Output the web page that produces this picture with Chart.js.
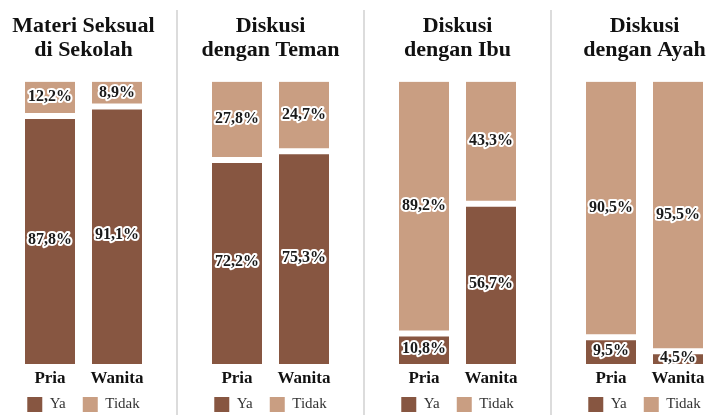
<!DOCTYPE html>
<html>
<head>
<meta charset="utf-8">
<script src="https://cdn.jsdelivr.net/npm/chart.js@4.4.1/dist/chart.umd.min.js"></script>
<style>
  html, body { margin: 0; padding: 0; background: #fff; overflow: hidden; }
  #wrap { position: relative; width: 707px; height: 415px; overflow: hidden; }
  .panel { position: absolute; top: 0; width: 187px; height: 422px; }
  .sep { position: absolute; top: 10px; width: 2px; height: 405px; background: #dcdcdc; }
</style>
</head>
<body>
<div id="wrap"></div>
<script>
// 데이터: 패널별 (Pria, Wanita)
const CATEGORIES = ['Pria', 'Wanita'];
const SERIES = ['Ya', 'Tidak'];
const TITLES = [
  ['Materi Seksual', 'di Sekolah'],
  ['Diskusi', 'dengan Teman'],
  ['Diskusi', 'dengan Ibu'],
  ['Diskusi', 'dengan Ayah'],
];
const YA = [[87.8, 91.1], [72.2, 75.3], [10.8, 56.7], [9.5, 4.5]];
const TIDAK = [[12.2, 8.9], [27.8, 24.7], [89.2, 43.3], [90.5, 95.5]];

const COLORS = ['#875641', '#c99e82'];
const SERIF = '"Liberation Serif", "Times New Roman", serif';
const PANEL_X = [-10, 177, 364, 551];
const SIDE = 26.5;

// 막대 안 퍼센트 라벨 (흰 테두리)
const pctLabels = {
  id: 'pctLabels',
  afterDatasetsDraw(chart) {
    const ctx = chart.ctx;
    ctx.save();
    ctx.font = 'bold 16px ' + SERIF;
    ctx.textAlign = 'center';
    ctx.textBaseline = 'middle';
    ctx.lineJoin = 'round';
    chart.data.datasets.forEach((ds, di) => {
      chart.getDatasetMeta(di).data.forEach((el, i) => {
        const v = ds.data[i];
        const txt = v.toFixed(1).replace('.', ',') + '%';
        const p = el.getCenterPoint();
        const y = p.y + (di === 0 ? 0 : -1.5);
        ctx.lineWidth = 4;
        ctx.strokeStyle = '#fff';
        ctx.strokeText(txt, p.x, y);
        ctx.fillStyle = '#1a1a1a';
        ctx.fillText(txt, p.x, y);
      });
    });
    ctx.restore();
  },
};

const wrap = document.getElementById('wrap');

TITLES.forEach((title, k) => {
  const div = document.createElement('div');
  div.className = 'panel';
  div.style.left = PANEL_X[k] + 'px';
  const cv = document.createElement('canvas');
  cv.width = 187; cv.height = 422;
  cv.style.width = '187px'; cv.style.height = '422px';
  div.appendChild(cv);
  wrap.appendChild(div);

  new Chart(cv, {
    type: 'bar',
    data: {
      labels: CATEGORIES,
      datasets: [
        {
          label: SERIES[0], data: YA[k], backgroundColor: COLORS[0],
          borderColor: '#fff', borderWidth: { top: 3, bottom: 0, left: 0, right: 0 }, borderSkipped: false,
        },
        {
          label: SERIES[1], data: TIDAK[k], backgroundColor: COLORS[1],
          borderColor: '#fff', borderWidth: { top: 0, bottom: 3, left: 0, right: 0 }, borderSkipped: false,
        },
      ],
    },
    options: {
      responsive: false,
      animation: false,
      barPercentage: 50 / 67,
      categoryPercentage: 1,
      layout: { padding: 0 },
      scales: {
        x: {
          stacked: true,
          grid: { display: false, drawTicks: false },
          border: { display: false },
          // mirror: 라벨이 축 영역에 잘리지 않도록
          ticks: {
            color: '#111', mirror: true, padding: -25,
            font: { family: SERIF, size: 17, weight: 'bold', lineHeight: 1.2 },
          },
          afterFit: (s) => { s.height = 16; },
        },
        y: {
          stacked: true, min: 0, max: 100,
          grid: { display: false, drawTicks: false },
          border: { display: false },
          ticks: { display: false },
          afterFit: (s) => { s.width = SIDE; },
        },
        y2: {
          position: 'right', display: true,
          grid: { display: false, drawTicks: false },
          border: { display: false },
          ticks: { display: false },
          afterFit: (s) => { s.width = SIDE; },
        },
      },
      plugins: {
        tooltip: { enabled: false },
        title: {
          display: true,
          text: title,
          color: '#111',
          font: { family: SERIF, size: 22, weight: 'bold', lineHeight: 1.1 },
          padding: { top: 14, bottom: 19 },
        },
        legend: {
          position: 'bottom',
          labels: {
            boxWidth: 15, boxHeight: 15, padding: 17,
            color: '#333',
            font: { family: SERIF, size: 15 },
            generateLabels: (chart) =>
              Chart.defaults.plugins.legend.labels.generateLabels(chart).map((l) => ({ ...l, lineWidth: 0, strokeStyle: 'rgba(0,0,0,0)' })),
          },
        },
      },
    },
    plugins: [pctLabels],
  });
});

// 패널 구분선
[177, 364, 551].forEach((x) => {
  const s = document.createElement('div');
  s.className = 'sep';
  s.style.left = (x - 1) + 'px';
  wrap.appendChild(s);
});
</script>
</body>
</html>
